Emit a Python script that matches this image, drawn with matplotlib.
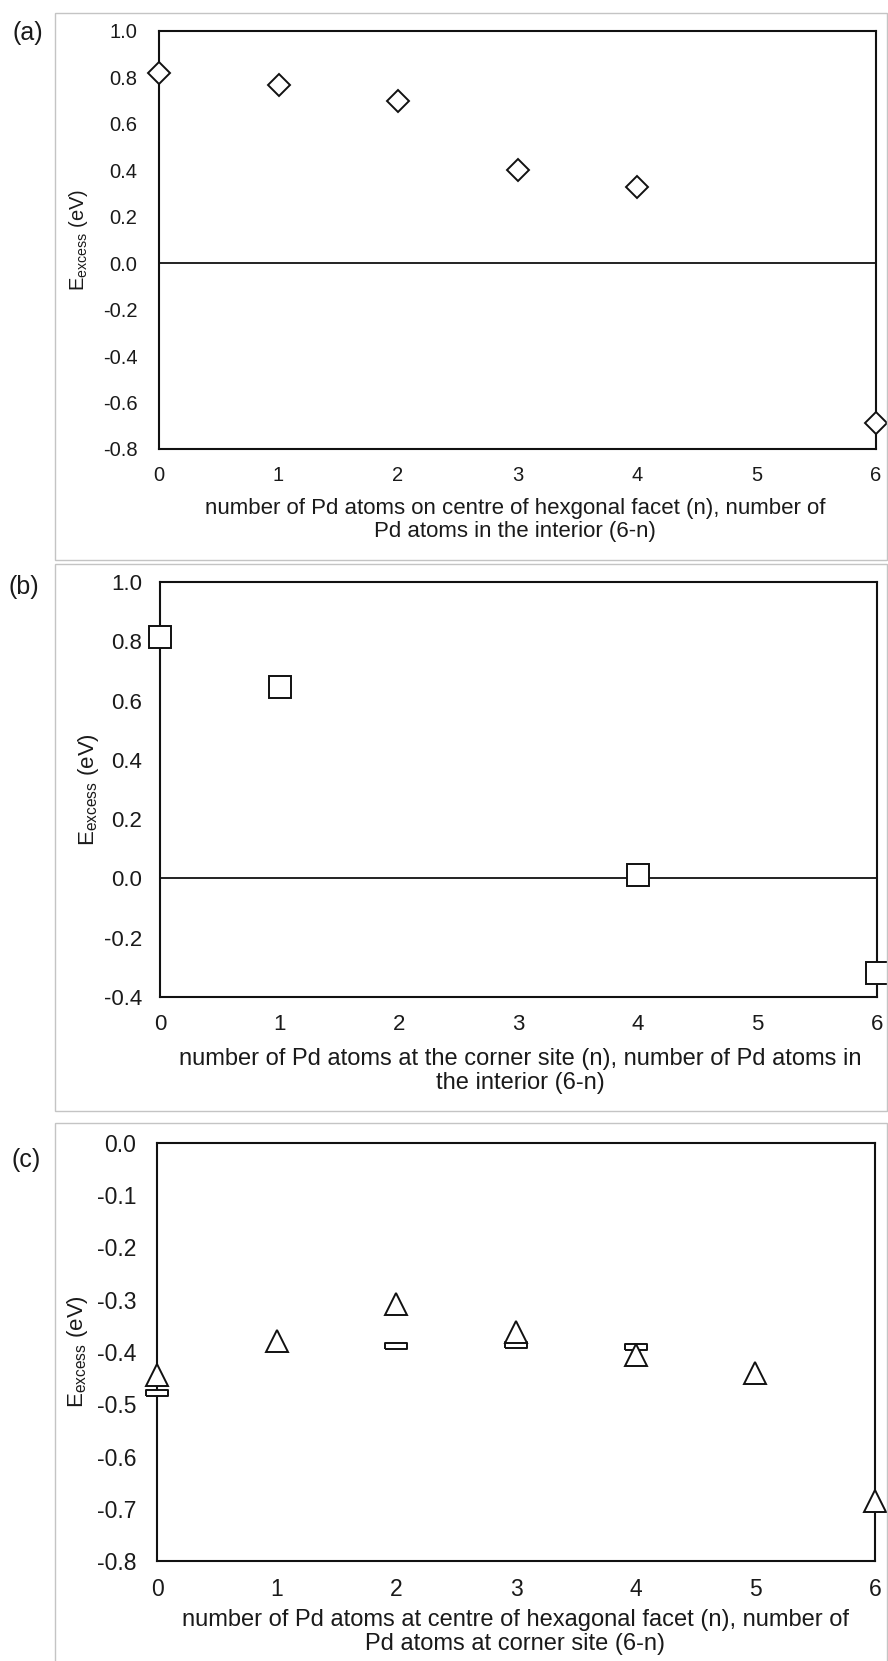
import matplotlib
matplotlib.use("Agg")
import matplotlib.pyplot as plt
from matplotlib.patches import Rectangle
import numpy as np

plt.rcParams['font.family'] = ['Liberation Sans', 'DejaVu Sans']
plt.rcParams['mathtext.fontset'] = 'custom'
plt.rcParams['mathtext.rm'] = 'Liberation Sans'

# ---------------- data ----------------
x_a = [0, 1, 2, 3, 4, 6]
y_a = [0.82, 0.767, 0.70, 0.40, 0.33, -0.69]

x_b = [0, 1, 4, 6]
y_b = [0.815, 0.646, 0.01, -0.32]

x_c_tri = [0, 1, 2, 3, 4, 5, 6]
y_c_tri = [-0.444, -0.378, -0.308, -0.362, -0.405, -0.44, -0.685]
x_c_dash = [0, 2, 3, 4]
y_c_dash = [-0.478, -0.388, -0.386, -0.39]

xticks = [0, 1, 2, 3, 4, 5, 6]
yticks_a = [1.0, 0.8, 0.6, 0.4, 0.2, 0.0, -0.2, -0.4, -0.6, -0.8]
yticks_b = [1.0, 0.8, 0.6, 0.4, 0.2, 0.0, -0.2, -0.4]
yticks_c = [0.0, -0.1, -0.2, -0.3, -0.4, -0.5, -0.6, -0.7, -0.8]

xlabel_a = "number of Pd atoms on centre of hexgonal facet (n), number of\nPd atoms in the interior (6-n)"
xlabel_b = "number of Pd atoms at the corner site (n), number of Pd atoms in\nthe interior (6-n)"
xlabel_c = "number of Pd atoms at centre of hexagonal facet (n), number of\nPd atoms at corner site (6-n)"
ylabel = r"E$_{\mathregular{excess}}$ (eV)"
panel_labels = ["(a)", "(b)", "(c)"]

# ---------------- layout ----------------
W, H = 888, 1661
fig = plt.figure(figsize=(W / 100, H / 100), dpi=100)


def rect(l, r, t, b):
    return [l / W, 1 - b / H, (r - l) / W, (b - t) / H]


def frame(l, r, t, b):
    fig.patches.append(Rectangle((l / W, 1 - b / H), (r - l) / W, (b - t) / H,
                                 transform=fig.transFigure, fill=False,
                                 edgecolor='#c4c4c4', lw=1.0, zorder=0))


def ftext(x, y, s, **kw):
    fig.text(x / W, 1 - y / H, s, **kw)


dash_marker = [(-1, -0.28), (1, -0.28), (1, 0.28), (-1, 0.28), (-1, -0.28)]

frame(55, 887, 13, 560)
frame(55, 887, 564, 1111)
frame(55, 887, 1123, 1700)


def style_axes(ax, yticks, ylim, fs_tick, xpad, ypad, fmt):
    ax.set_xlim(0, 6)
    ax.set_ylim(*ylim)
    ax.set_xticks(xticks)
    ax.set_xticklabels([str(v) for v in xticks])
    ax.set_yticks(yticks)
    ax.set_yticklabels([fmt.format(v) for v in yticks])
    ax.tick_params(axis='both', length=0, labelsize=fs_tick, colors='#1a1a1a')
    ax.tick_params(axis='x', pad=xpad)
    ax.tick_params(axis='y', pad=ypad)
    for sp in ax.spines.values():
        sp.set_linewidth(1.5)
        sp.set_color('#111111')


# ---- panel (a)
ax1 = fig.add_axes(rect(159, 876, 31, 449))
style_axes(ax1, yticks_a, (-0.8, 1.0), 14.5, 12.5, 15.5, "{:.1f}")
ax1.axhline(0, color='#111111', lw=1.3, zorder=1)
ax1.plot(x_a, y_a, linestyle='none', marker='D', ms=11.5, mfc='white',
         mec='#111111', mew=1.4, clip_on=False, zorder=5)
ftext(515, 520, xlabel_a, ha='center', va='center', fontsize=16,
      linespacing=1.1, color='#1a1a1a')
ftext(79, 240, ylabel, ha='center', va='center', rotation=90, fontsize=14.5,
      color='#1a1a1a')
ftext(12, 33, panel_labels[0], ha='left', va='center', fontsize=18,
      color='#1a1a1a')

# ---- panel (b)
ax2 = fig.add_axes(rect(160, 877, 582, 997))
style_axes(ax2, yticks_b, (-0.4, 1.0), 16, 12, 13, "{:.1f}")
ax2.axhline(0, color='#111111', lw=1.3, zorder=1)
ax2.plot(x_b, y_b, linestyle='none', marker='s', ms=16.5, mfc='white',
         mec='#111111', mew=1.4, clip_on=False, zorder=5)
ftext(520, 1071, xlabel_b, ha='center', va='center', fontsize=17,
      linespacing=1.1, color='#1a1a1a')
ftext(88, 790, ylabel, ha='center', va='center', rotation=90, fontsize=16,
      color='#1a1a1a')
ftext(8, 587, panel_labels[1], ha='left', va='center', fontsize=18,
      color='#1a1a1a')

# ---- panel (c)
ax3 = fig.add_axes(rect(157, 875, 1143, 1561))
style_axes(ax3, yticks_c, (-0.8, 0.0), 16.5, 12, 15, "{:.1f}")
ax3.plot(x_c_tri, y_c_tri, linestyle='none', marker='^', ms=15.5, mfc='white',
         mec='#111111', mew=1.4, clip_on=False, zorder=5)
ax3.plot(x_c_dash, y_c_dash, linestyle='none', marker=dash_marker, ms=16.5,
         mfc='white', mec='#111111', mew=1.4, clip_on=False, zorder=4)
ftext(515, 1632, xlabel_c, ha='center', va='center', fontsize=17,
      linespacing=1.1, color='#1a1a1a')
ftext(77, 1352, ylabel, ha='center', va='center', rotation=90, fontsize=16,
      color='#1a1a1a')
ftext(11, 1160, panel_labels[2], ha='left', va='center', fontsize=18,
      color='#1a1a1a')

fig.savefig("out.png", dpi=100, facecolor='white')
